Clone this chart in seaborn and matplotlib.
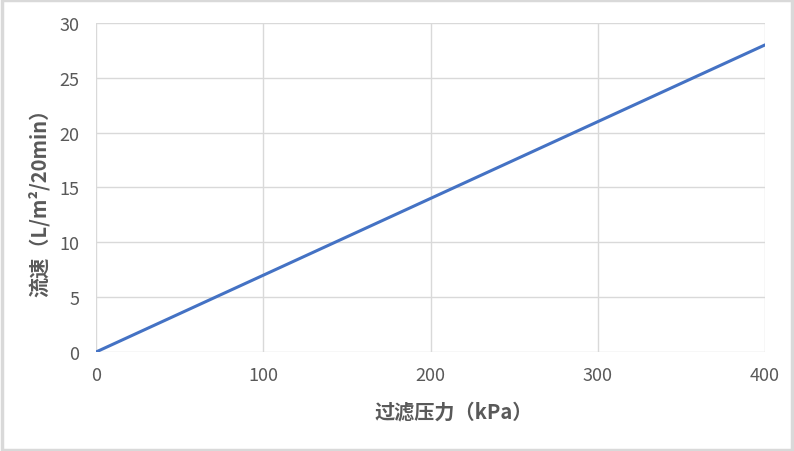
import matplotlib.pyplot as plt
import seaborn as sns
import pandas as pd
from matplotlib.patches import Rectangle

pressure = [0, 100, 200, 300, 400]
flow = [0, 7, 14, 21, 28]
x_ticks = [0, 100, 200, 300, 400]
y_ticks = [0, 5, 10, 15, 20, 25, 30]

data = pd.DataFrame({"pressure": pressure, "flow": flow})

sns.set_style("white")
plt.rcParams['font.family'] = ['Noto Sans CJK SC', 'DejaVu Sans']

fig = plt.figure(figsize=(7.94, 4.52), dpi=100)
ax = fig.add_axes([0.1209, 0.219, 0.8426, 0.728])

sns.lineplot(data=data, x="pressure", y="flow", color="#4472C4", linewidth=2.2, ax=ax)

ax.set_xlim(0, 400)
ax.set_ylim(0, 30)
ax.set_xticks(x_ticks)
ax.set_yticks(y_ticks)
ax.grid(True, color="#d9d9d9", linewidth=1)
for s in ax.spines.values():
    s.set_visible(False)
ax.tick_params(axis="both", length=0, labelsize=13, labelcolor="#595959")
ax.tick_params(axis="x", pad=10)
ax.tick_params(axis="y", pad=12)

ax.set_xlabel("过滤压力（kPa）", fontsize=14.5, fontweight="bold", color="#595959",
              va="center")
ax.set_ylabel("流速（L/m²/20min）", fontsize=14.5, fontweight="bold", color="#595959",
              va="center")
ax.xaxis.set_label_coords(0.535, -0.179)
ax.yaxis.set_label_coords(-0.0852, 0.471)

# figure border
fig.patches.append(Rectangle((0.002, 0.003), 0.996, 0.994, transform=fig.transFigure,
                             fill=False, edgecolor="#d9d9d9", linewidth=2.5))

fig.savefig("out.png", dpi=100)
